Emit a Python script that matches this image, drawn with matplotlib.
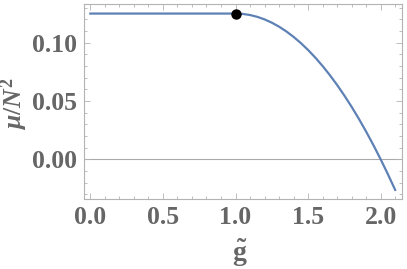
import matplotlib
matplotlib.use("Agg")
import matplotlib.pyplot as plt
from matplotlib.ticker import MultipleLocator

g_vals = [0.0, 1.00, 1.05, 1.10, 1.15, 1.20, 1.25, 1.30, 1.35, 1.40, 1.45, 1.50,
          1.55, 1.60, 1.65, 1.70, 1.75, 1.80, 1.85, 1.90, 1.95, 2.00, 2.05, 2.10]
mu_vals = [0.125, 0.125, 0.12469, 0.12375, 0.12219, 0.12, 0.11719, 0.11375, 0.10969,
           0.105, 0.09969, 0.09375, 0.08719, 0.08, 0.07219, 0.06375, 0.05469, 0.045,
           0.03469, 0.02375, 0.01219, 0.0, -0.01281, -0.02625]
point_g = [1.0]
point_mu = [0.125]
xticks = [0.0, 0.5, 1.0, 1.5, 2.0]
yticks = [0.00, 0.05, 0.10]

plt.rcParams['mathtext.fontset'] = 'custom'
plt.rcParams['mathtext.rm'] = 'Liberation Serif:bold'
plt.rcParams['mathtext.it'] = 'Liberation Serif:italic:bold'
plt.rcParams['mathtext.bf'] = 'Liberation Serif:bold'

fig = plt.figure(figsize=(4.07, 2.69), dpi=100)
ax = fig.add_axes([84/407, 1-199.3/269, (401.7-84)/407, (199.3-4)/269])

txt_color = '#666666'
frame_color = '#b3b3b3'

ax.axhline(0, color='#aaaaaa', lw=0.8, zorder=1)
ax.plot(g_vals, mu_vals, color='#5E81B5', lw=1.6, zorder=2)
ax.plot(point_g, point_mu, 'o', color='black', ms=6.5, zorder=3)

ax.set_xlim(-0.044, 2.145)
ax.set_ylim(-0.0343, 0.1332)
ax.set_xticks(xticks)
ax.set_yticks(yticks)
ax.set_xticklabels([f"{v:.1f}" for v in xticks])
ax.set_yticklabels([f"{v:.2f}" for v in yticks])
ax.xaxis.set_minor_locator(MultipleLocator(0.1))
ax.yaxis.set_minor_locator(MultipleLocator(0.01))

for s in ax.spines.values():
    s.set_color(frame_color)
    s.set_linewidth(0.8)

ax.tick_params(which='both', direction='in', top=True, right=True, color=frame_color, width=0.6)
ax.tick_params(which='major', length=4)
ax.tick_params(which='minor', length=2.2)
ax.tick_params(axis='both', which='major', labelsize=18.5, labelcolor=txt_color, pad=5)
for lab in ax.get_xticklabels() + ax.get_yticklabels():
    lab.set_family('Liberation Serif')
    lab.set_weight('bold')

ax.set_xlabel(r'$\tilde{\mathrm{g}}$', fontsize=20, color=txt_color)
ax.xaxis.set_label_coords(0.49, -0.19)
ax.set_ylabel(r'$\mu/N^2$', fontsize=18.5, color=txt_color)
ax.yaxis.set_label_coords(-0.17, 0.49)

fig.savefig('out.png', dpi=100)
